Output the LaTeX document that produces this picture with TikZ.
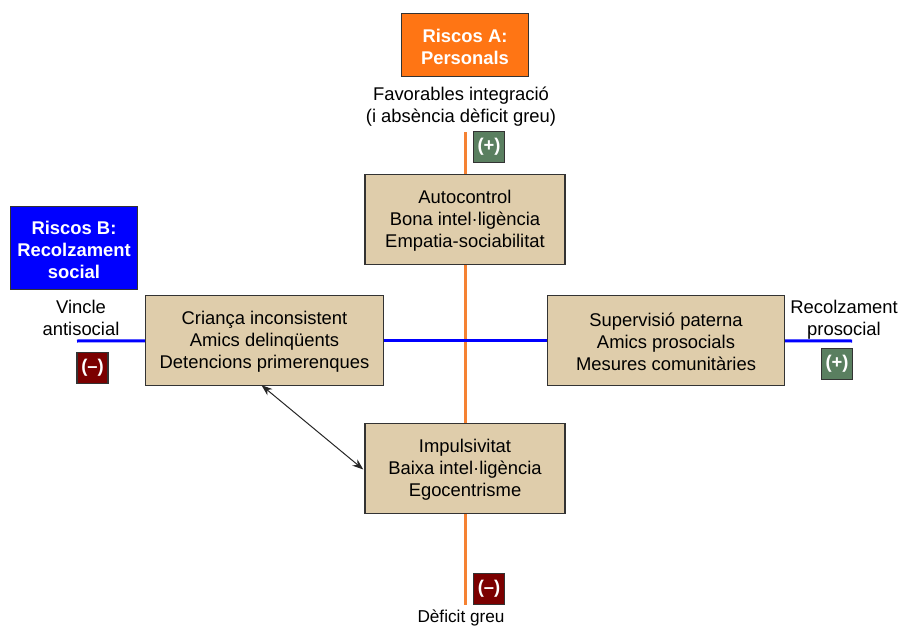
\documentclass[tikz,border=0pt]{standalone}
\usepackage{fontspec}
\setmainfont{Liberation Sans}
\usepackage{tikz}
\usetikzlibrary{arrows.meta}
\definecolor{orangeA}{HTML}{FF7514}
\definecolor{orangeline}{HTML}{F58233}
\definecolor{tanbox}{HTML}{DFCDAB}
\definecolor{greensign}{HTML}{5A7F60}
\definecolor{redsign}{HTML}{7B0000}
\definecolor{edgegrey}{HTML}{333333}
\newcommand{\riskstrut}{\rule{0pt}{17.4pt}}
\newcommand{\factorstrut}{\rule{0pt}{16.4pt}}
\tikzstyle{risk} = [draw=edgegrey, line width=1.4pt, text=white, align=center, font=\bfseries\fontsize{18.4}{22}\selectfont, minimum width=127pt, inner sep=0pt]
\tikzstyle{factor} = [draw=edgegrey, fill=tanbox, line width=1.4pt, align=center, font=\fontsize{18.4}{22}\selectfont, minimum height=90pt, inner sep=0pt]
\tikzstyle{lbl} = [align=center, font=\fontsize{18.4}{22}\selectfont, inner sep=0pt]
\tikzstyle{sign} = [draw=edgegrey, line width=1.4pt, text=white, font=\bfseries\fontsize{18.4}{20}\selectfont, minimum size=31pt, inner sep=0pt]
\tikzstyle{axisA} = [draw=orangeline, line width=3pt]
\tikzstyle{axisB} = [draw=blue, line width=3pt]
\tikzstyle{arrow} = [draw=black!85, line width=1pt, {Stealth[length=11pt,width=8pt]}-{Stealth[length=11pt,width=8pt]}]

\begin{document}
\begin{tikzpicture}[x=1pt, y=-1pt]
\useasboundingbox (0,0) rectangle (900,626);
\coordinate (orangetop) at (465,132);
\coordinate (orangebottom) at (465,605);
\coordinate (bluewest) at (77,341);
\coordinate (blueeast) at (852,341);
\node [risk, fill=orangeA, minimum height=63pt] (riscA) at (465,45) {\riskstrut Riscos A:\\Personals};
\node [risk, fill=blue, minimum height=83pt] (riscB) at (74,248) {\riskstrut Riscos B:\\Recolzament\\social};
\node [factor, minimum width=200pt] (autocontrol) at (465,219.5) {\factorstrut Autocontrol\\Bona intel·ligència\\Empatia-sociabilitat};
\node [factor, minimum width=238pt] (crianca) at (264.5,340.5) {\factorstrut Criança inconsistent\\Amics delinqüents\\Detencions primerenques};
\node [factor, minimum width=237pt] (supervisio) at (666,340.5) {\factorstrut Supervisió paterna\\Amics prosocials\\Mesures comunitàries};
\node [factor, minimum width=200pt] (impulsivitat) at (465,468.5) {\factorstrut Impulsivitat\\Baixa intel·ligència\\Egocentrisme};
\node [lbl] (favorables) at (461,107) {Favorables integració\\(i absència dèficit greu)};
\node [lbl] (vincle) at (81,318) {Vincle\\antisocial};
\node [lbl] (recolzament) at (844,320) {Recolzament\\prosocial};
\node [lbl, anchor=base, font=\fontsize{17.2}{22}\selectfont] (deficit) at (461,622) {Dèficit greu};
\node [sign, fill=greensign] (signA) at (489,147) {(+)};
\node [sign, fill=redsign] (signB) at (92.5,368) {(--)};
\node [sign, fill=greensign] (signC) at (837,364) {(+)};
\node [sign, fill=redsign] (signD) at (489,589) {(--)};
\draw [axisA] (orangetop) -- (autocontrol);
\draw [axisA] (autocontrol) -- (impulsivitat);
\draw [axisA] (impulsivitat) -- (orangebottom);
\draw [axisB] (bluewest) -- (crianca);
\draw [axisB] (crianca) -- (supervisio);
\draw [axisB] (supervisio) -- (blueeast);
\draw [arrow] ([xshift=-3pt,yshift=1pt]crianca.south) -- ([xshift=-1pt,yshift=-1pt]impulsivitat.west);
\end{tikzpicture}
\end{document}
